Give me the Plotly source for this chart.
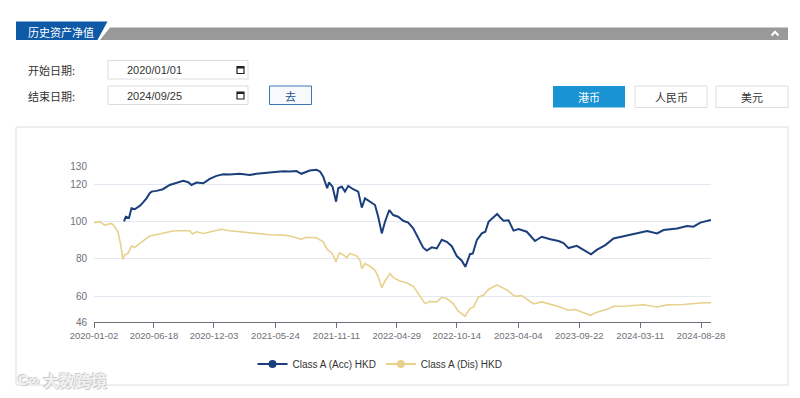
import plotly.graph_objects as go

# ---------------- data ----------------
acc_dates = ["2020-03-26","2020-03-31","2020-04-09","2020-04-16","2020-04-25","2020-05-09","2020-05-18","2020-05-28",
             "2020-06-06","2020-06-11","2020-06-25","2020-07-13","2020-08-01","2020-08-20","2020-09-08","2020-09-22",
             "2020-10-01","2020-10-15","2020-11-03","2020-11-21","2020-12-10","2020-12-29","2021-01-16","2021-02-13",
             "2021-03-13","2021-04-01","2021-05-09","2021-06-15","2021-07-04","2021-07-22","2021-08-05","2021-08-28",
             "2021-09-16","2021-09-26","2021-10-05","2021-10-16","2021-10-21","2021-10-31","2021-11-10","2021-11-16",
             "2021-11-26","2021-12-05","2021-12-14","2021-12-28","2022-01-11","2022-01-21","2022-01-30","2022-02-13",
             "2022-02-27","2022-03-08","2022-03-18","2022-03-27","2022-04-08","2022-04-19","2022-05-03","2022-05-17",
             "2022-05-31","2022-06-14","2022-06-28","2022-07-12","2022-07-22","2022-08-05","2022-08-19","2022-09-02",
             "2022-09-16","2022-09-30","2022-10-14","2022-10-28","2022-11-07","2022-11-20","2022-11-28","2022-12-09",
             "2022-12-23","2023-01-02","2023-01-11","2023-01-25","2023-02-04","2023-02-12","2023-02-22","2023-03-08",
             "2023-03-22","2023-04-05","2023-04-19","2023-04-28","2023-05-21","2023-06-09","2023-07-03","2023-07-26",
             "2023-08-09","2023-08-23","2023-09-15","2023-10-09","2023-10-25","2023-11-10","2023-12-04","2023-12-27",
             "2024-01-24","2024-02-21","2024-03-30","2024-04-27","2024-05-15","2024-06-22","2024-07-20","2024-08-07",
             "2024-08-26","2024-09-25"]
acc_values = [100.2, 102.7, 102.0, 107.2, 106.7, 108.5, 110.3, 112.6,
              115.4, 116.2, 116.6, 117.5, 119.8, 120.7, 122.0, 121.3,
              119.8, 121.1, 120.7, 123.1, 124.7, 125.6, 125.4, 125.8,
              125.1, 125.8, 126.5, 127.2, 127.0, 127.3, 125.8, 127.6,
              128.0, 127.0, 124.3, 118.0, 121.1, 118.9, 110.8, 118.0,
              118.9, 116.2, 119.3, 117.5, 116.2, 107.6, 112.6, 110.8,
              109.0, 102.7, 93.7, 100.0, 106.3, 103.6, 102.7, 100.5,
              99.5, 96.5, 91.0, 86.0, 84.5, 86.2, 85.6, 90.3,
              89.2, 86.8, 81.5, 79.0, 75.7, 82.5, 82.9, 90.1,
              93.7, 94.6, 100.0, 102.7, 104.2, 102.4, 100.5, 100.8,
              95.2, 96.0, 95.1, 94.6, 89.6, 91.9, 90.6, 89.6,
              88.5, 85.8, 87.0, 84.5, 82.4, 84.8, 87.4, 91.0,
              92.3, 93.4, 95.0, 93.7, 95.5, 96.4, 97.7, 97.3,
              99.5, 100.9]

dis_dates = ["2020-01-02","2020-01-18","2020-02-01","2020-02-20","2020-02-28","2020-03-09","2020-03-16","2020-03-23",
             "2020-03-27","2020-04-06","2020-04-16","2020-04-25","2020-05-09","2020-05-23","2020-06-06","2020-06-20",
             "2020-07-04","2020-07-23","2020-08-10","2020-08-29","2020-09-26","2020-10-04","2020-10-15","2020-11-03",
             "2020-11-21","2020-12-24","2021-01-16","2021-02-13","2021-03-13","2021-04-01","2021-05-09","2021-06-15",
             "2021-07-04","2021-08-05","2021-08-19","2021-09-16","2021-10-05","2021-10-16","2021-10-29","2021-11-10",
             "2021-11-19","2021-11-30","2021-12-10","2021-12-19","2022-01-07","2022-01-16","2022-01-21","2022-01-30",
             "2022-02-13","2022-02-27","2022-03-08","2022-03-18","2022-03-27","2022-04-10","2022-04-19","2022-05-08",
             "2022-05-27","2022-06-14","2022-07-03","2022-07-17","2022-07-31","2022-08-19","2022-09-02","2022-09-16",
             "2022-10-04","2022-10-18","2022-11-06","2022-11-20","2022-11-30","2022-12-14","2022-12-28","2023-01-11",
             "2023-02-03","2023-02-12","2023-03-03","2023-03-26","2023-04-14","2023-05-17","2023-06-09","2023-07-21",
             "2023-08-23","2023-09-11","2023-10-04","2023-10-23","2023-11-10","2023-12-09","2023-12-27","2024-02-03",
             "2024-03-20","2024-04-27","2024-05-25","2024-07-10","2024-08-26","2024-09-25"]
dis_values = [99.5, 100.0, 98.2, 99.1, 97.5, 94.6, 88.3, 79.7,
              82.0, 82.9, 86.9, 86.2, 88.3, 90.1, 92.3, 92.8,
              93.4, 94.1, 95.0, 95.1, 95.1, 93.4, 94.6, 93.7,
              94.6, 95.9, 95.1, 94.6, 94.1, 93.4, 93.0, 92.8,
              92.3, 90.6, 91.6, 91.4, 89.2, 85.1, 83.2, 78.4,
              83.2, 82.2, 80.7, 82.9, 81.5, 79.3, 74.8, 77.5,
              76.0, 73.9, 70.3, 64.5, 68.1, 72.1, 69.9, 68.1,
              67.0, 65.3, 59.5, 55.9, 57.1, 56.8, 59.3, 58.6,
              55.9, 52.0, 49.1, 53.2, 54.1, 59.5, 60.4, 63.5,
              66.0, 65.2, 63.3, 59.8, 60.2, 55.7, 56.8, 54.6,
              52.3, 52.7, 51.0, 49.6, 51.2, 52.8, 54.4, 54.6,
              55.3, 54.1, 55.2, 55.4, 56.2, 56.4]

x_ticks = ["2020-01-02","2020-06-18","2020-12-03","2021-05-24","2021-11-11","2022-04-29",
           "2022-10-14","2023-04-04","2023-09-22","2024-03-11","2024-08-28"]
y_ticks = [46, 60, 80, 100, 120, 130]
series_names = ["Class A (Acc) HKD", "Class A (Dis) HKD"]
series_colors = ["#1b3f7c", "#e8d18c"]
currency_buttons = ["港币", "人民币", "美元"]
title_text = "历史资产净值"
start_label, end_label = "开始日期:", "结束日期:"
start_date, end_date = "2020/01/01", "2024/09/25"
watermark = "大数跨境"

# ---------------- geometry ----------------
W, H = 800, 398
L, R, T, B = 94, 711, 166, 322
PW, PH = R - L, B - T

def px(x):
    return (x - L) / PW

def py(y):
    return (B - y) / PH

CJK = "Noto Sans CJK SC, Liberation Sans, sans-serif"
LAT = "Liberation Sans, Noto Sans CJK SC, sans-serif"

fig = go.Figure()

fig.add_trace(go.Scatter(x=acc_dates, y=acc_values, mode="lines", name=series_names[0],
                         line=dict(color=series_colors[0], width=2), showlegend=False))
fig.add_trace(go.Scatter(x=dis_dates, y=dis_values, mode="lines", name=series_names[1],
                         line=dict(color=series_colors[1], width=1.6), showlegend=False))
for nm, c in zip(series_names, series_colors):
    fig.add_trace(go.Scatter(x=[None], y=[None], mode="lines+markers", name=nm,
                             line=dict(color=c, width=2), marker=dict(color=c, size=8)))

shapes = []
NONE = "rgba(0,0,0,0)"

def rect(x0, y0, x1, y1, line=None, fill=None, lw=1, layer="above"):
    shapes.append(dict(type="rect", xref="paper", yref="paper",
                       x0=px(x0), x1=px(x1), y0=py(y1), y1=py(y0),
                       line=dict(color=line or NONE, width=lw if line else 0),
                       fillcolor=fill or NONE, layer=layer))

def poly(pts, fill):
    d = "M " + " L ".join(f"{px(a):.5f},{py(b):.5f}" for a, b in pts) + " Z"
    shapes.append(dict(type="path", xref="paper", yref="paper", path=d,
                       fillcolor=fill, line=dict(color=NONE, width=0), layer="above"))

def polyline(pts, color, lw):
    d = "M " + " L ".join(f"{px(a):.5f},{py(b):.5f}" for a, b in pts)
    shapes.append(dict(type="path", xref="paper", yref="paper", path=d, fillcolor=NONE,
                       line=dict(color=color, width=lw), layer="above"))

# header bar
poly([(100, 40), (110, 27.5), (788, 27.5), (788, 40)], "#999999")
poly([(16, 21.5), (107.5, 21.5), (97.5, 40), (16, 40)], "#0e5aa7")
polyline([(771.5, 35.5), (775, 31.8), (778.5, 35.5)], "white", 2)

# date inputs
rect(108, 60.5, 248, 79, line="#dcdcdc")
rect(108, 86, 248, 104.5, line="#dcdcdc")
for cy in (70, 95.5):
    rect(237, cy - 3.5, 244, cy + 3.5, line="#222222", lw=1.2)
    rect(237, cy - 3.5, 244, cy - 1.5, fill="#222222")
# go button
rect(269.5, 86, 311.5, 104.5, line="#3c78b8", fill="#f7f9fc")
# currency buttons
btn_x = [(553, 625), (635, 707), (716, 788)]
rect(553, 86, 625, 107.5, fill="#1a93d2")
rect(635, 86, 707, 107.5, line="#dddddd")
rect(716, 86, 788, 107.5, line="#dddddd")
# chart container
rect(16, 127, 788, 385, line="#dedede", layer="below")

ann = []
def text(x, y, s, size=11, color="#333333", font=CJK, xanchor="left", **kw):
    f = dict(size=size, color=color, family=font)
    f.update(kw)
    ann.append(dict(x=px(x), y=py(y), xref="paper", yref="paper", text=s, showarrow=False,
                    xanchor=xanchor, yanchor="middle", font=f))

text(26, 31.5, title_text, size=11, color="white")
text(26, 70, start_label, size=11, color="#333333")
text(26, 95.5, end_label, size=11, color="#333333")
text(124.5, 70, start_date, size=11, color="#333333", font=LAT)
text(124.5, 95.5, end_date, size=11, color="#333333", font=LAT)
text(290.5, 95.5, "去", size=11, color="#1b4f8f", xanchor="center")
for (a, b), lab, col in zip(btn_x, currency_buttons, ["white", "#333333", "#333333"]):
    text((a + b) / 2, 97, lab, size=11, color=col, xanchor="center")
text(16, 379, "C∞", size=15, color="#f2f2f2", font=LAT, weight="bold",
     shadow="1px 1px 1px #c8c8c8, -1px -1px 1px #c8c8c8")
text(41, 380, watermark, size=16, color="#f2f2f2", weight="bold",
     shadow="1px 1px 1px #c8c8c8, -1px -1px 1px #c8c8c8")

fig.update_layout(
    width=W, height=H, autosize=False,
    margin=dict(l=L, r=W - R, t=T, b=H - B, pad=0, autoexpand=False),
    paper_bgcolor="white", plot_bgcolor="white",
    font=dict(family=LAT, size=10, color="#6e7079"),
    shapes=shapes, annotations=ann,
    showlegend=True,
    legend=dict(orientation="h", x=px(380), xanchor="center",
                y=py(364), yanchor="middle", font=dict(size=10, color="#333333"),
                bgcolor="rgba(0,0,0,0)", itemwidth=30, tracegroupgap=0),
    xaxis=dict(type="date", range=["2020-01-02", "2024-09-25"], tickvals=x_ticks, ticktext=x_ticks,
               showgrid=False, showline=True, linecolor="#6e7079", linewidth=1, tickangle=0,
               ticks="outside", ticklen=5, tickcolor="#6e7079", zeroline=False, automargin=False,
               tickfont=dict(size=9.5, color="#6e7079")),
    yaxis=dict(range=[46, 130], tickvals=y_ticks, showgrid=True, gridcolor="#e4e9f1", gridwidth=1,
               showline=False, zeroline=False, ticks="", ticklabelstandoff=6, automargin=False,
               tickfont=dict(size=10, color="#6e7079")),
)

fig.write_html("out.html", config={"displayModeBar": False},
               post_script="document.body.style.margin='0';document.body.style.padding='0';")
